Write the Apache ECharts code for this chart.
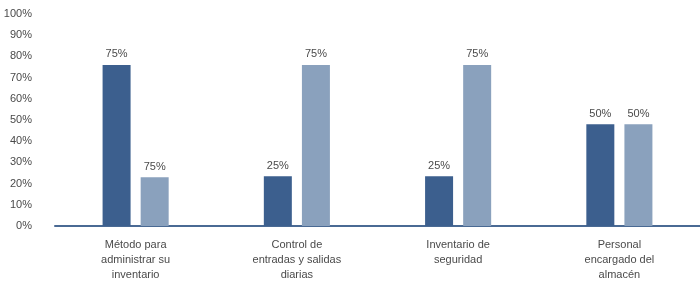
<!DOCTYPE html>
<html>
<head>
<meta charset="utf-8">
<script src="https://cdn.jsdelivr.net/npm/echarts@6/dist/echarts.min.js"></script>
<style>
html,body{margin:0;padding:0;background:#fff;}
#chart{width:700px;height:282px;}
</style>
</head>
<body>
<div id="chart"></div>
<script>
// categorias del eje x
var categorias = ['Método para\nadministrar su\ninventario', 'Control de\nentradas y salidas\ndiarias', 'Inventario de\nseguridad', 'Personal\nencargado del\nalmacén'];
// alturas
var serieA = [76, 23.5, 23.5, 48];
var serieB = [23, 76, 76, 48];
// etiquetas tal como aparecen en el grafico
var etiquetasA = ['75%', '25%', '25%', '50%'];
var etiquetasB = ['75%', '75%', '75%', '50%'];

var myChart = echarts.init(document.getElementById('chart'));

var labelStyle = {
    show: true,
    position: 'top',
    distance: 5,
    color: '#4a4a4a',
    fontSize: 11,
    fontFamily: 'Liberation Sans'
};

option = {
    animation: false,
    grid: {left: 55, right: 0, top: 14, bottom: 56},
    xAxis: {
        type: 'category',
        data: categorias,
        axisLine: {lineStyle: {color: '#4a6a94', width: 2}},
        axisTick: {show: false},
        axisLabel: {
            interval: 0,
            color: '#4a4a4a',
            fontSize: 11,
            fontFamily: 'Liberation Sans',
            lineHeight: 15,
            margin: 11
        }
    },
    yAxis: {
        type: 'value',
        min: 0,
        max: 100,
        interval: 10,
        axisLine: {show: false},
        axisTick: {show: false},
        splitLine: {show: false},
        axisLabel: {
            formatter: '{value}%',
            color: '#4a4a4a',
            fontSize: 11,
            fontFamily: 'Liberation Sans',
            margin: 23
        }
    },
    series: [{
        type: 'bar',
        data: serieA,
        barWidth: 28,
        barGap: '36%',
        itemStyle: {color: '#3c5f8e'},
        label: Object.assign({}, labelStyle, {
            formatter: function(p){ return etiquetasA[p.dataIndex]; }
        })
    }, {
        type: 'bar',
        data: serieB,
        barWidth: 28,
        barGap: '36%',
        itemStyle: {color: '#8aa1bd'},
        label: Object.assign({}, labelStyle, {
            formatter: function(p){ return etiquetasB[p.dataIndex]; }
        })
    }]
};
myChart.setOption(option, true);
</script>
</body>
</html>
